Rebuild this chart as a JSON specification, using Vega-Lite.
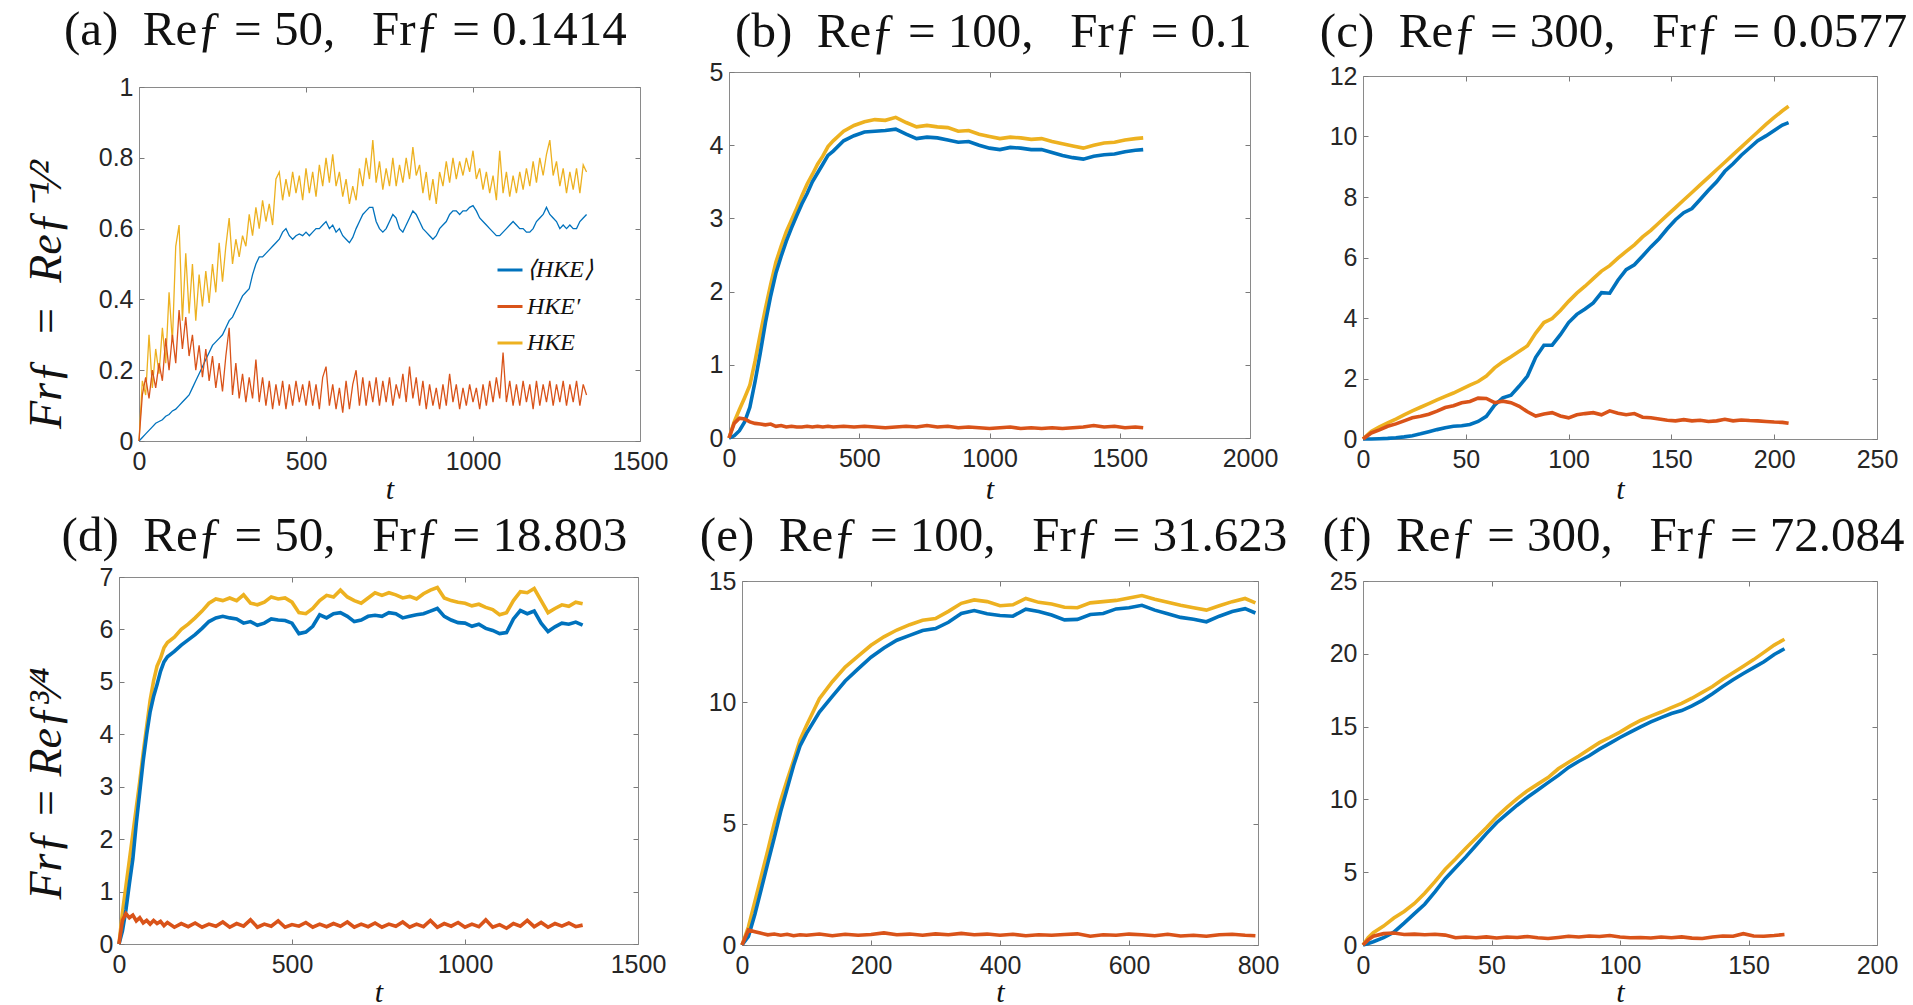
{
  "$schema": "https://vega.github.io/schema/vega-lite/v6.json",
  "background": "white",
  "padding": {"left": 23, "top": 6, "right": 0, "bottom": 0},
  "datasets": {
    "a": [
      {"t":0,"mean":0,"fluc":0,"total":0},{"t":10,"mean":0.01,"fluc":0.13,"total":0.17},{"t":20,"mean":0.02,"fluc":0.18,"total":0.13},{"t":30,"mean":0.03,"fluc":0.12,"total":0.3},{"t":40,"mean":0.04,"fluc":0.2,"total":0.15},{"t":50,"mean":0.05,"fluc":0.15,"total":0.26},{"t":60,"mean":0.055,"fluc":0.22,"total":0.19},{"t":70,"mean":0.06,"fluc":0.17,"total":0.32},{"t":80,"mean":0.07,"fluc":0.29,"total":0.22},{"t":90,"mean":0.075,"fluc":0.2,"total":0.42},
      {"t":100,"mean":0.085,"fluc":0.3,"total":0.28},{"t":110,"mean":0.09,"fluc":0.22,"total":0.55},{"t":120,"mean":0.1,"fluc":0.37,"total":0.61},{"t":130,"mean":0.11,"fluc":0.26,"total":0.34},{"t":140,"mean":0.12,"fluc":0.35,"total":0.53},{"t":150,"mean":0.13,"fluc":0.24,"total":0.36},{"t":160,"mean":0.15,"fluc":0.3,"total":0.5},{"t":170,"mean":0.17,"fluc":0.2,"total":0.34},{"t":180,"mean":0.19,"fluc":0.27,"total":0.47},{"t":190,"mean":0.21,"fluc":0.18,"total":0.38},
      {"t":200,"mean":0.23,"fluc":0.26,"total":0.48},{"t":210,"mean":0.25,"fluc":0.17,"total":0.39},{"t":220,"mean":0.27,"fluc":0.24,"total":0.5},{"t":230,"mean":0.28,"fluc":0.15,"total":0.42},{"t":240,"mean":0.29,"fluc":0.22,"total":0.56},{"t":250,"mean":0.3,"fluc":0.14,"total":0.45},{"t":260,"mean":0.32,"fluc":0.24,"total":0.55},{"t":270,"mean":0.34,"fluc":0.32,"total":0.63},{"t":280,"mean":0.35,"fluc":0.13,"total":0.5},{"t":290,"mean":0.37,"fluc":0.22,"total":0.57},
      {"t":300,"mean":0.39,"fluc":0.12,"total":0.52},{"t":310,"mean":0.41,"fluc":0.19,"total":0.58},{"t":320,"mean":0.42,"fluc":0.11,"total":0.55},{"t":330,"mean":0.43,"fluc":0.18,"total":0.64},{"t":340,"mean":0.47,"fluc":0.12,"total":0.58},{"t":350,"mean":0.5,"fluc":0.23,"total":0.66},{"t":360,"mean":0.52,"fluc":0.11,"total":0.6},{"t":370,"mean":0.52,"fluc":0.18,"total":0.68},{"t":380,"mean":0.53,"fluc":0.1,"total":0.62},{"t":390,"mean":0.54,"fluc":0.17,"total":0.67},
      {"t":400,"mean":0.55,"fluc":0.09,"total":0.61},{"t":410,"mean":0.56,"fluc":0.16,"total":0.74},{"t":420,"mean":0.57,"fluc":0.1,"total":0.76},{"t":430,"mean":0.59,"fluc":0.17,"total":0.68},{"t":440,"mean":0.6,"fluc":0.09,"total":0.74},{"t":450,"mean":0.58,"fluc":0.16,"total":0.69},{"t":460,"mean":0.57,"fluc":0.1,"total":0.76},{"t":470,"mean":0.58,"fluc":0.17,"total":0.7},{"t":480,"mean":0.585,"fluc":0.11,"total":0.75},{"t":490,"mean":0.58,"fluc":0.16,"total":0.68},
      {"t":500,"mean":0.59,"fluc":0.1,"total":0.77},{"t":510,"mean":0.58,"fluc":0.17,"total":0.7},{"t":520,"mean":0.59,"fluc":0.1,"total":0.76},{"t":530,"mean":0.6,"fluc":0.16,"total":0.69},{"t":540,"mean":0.6,"fluc":0.09,"total":0.78},{"t":550,"mean":0.61,"fluc":0.18,"total":0.72},{"t":560,"mean":0.62,"fluc":0.21,"total":0.8},{"t":570,"mean":0.6,"fluc":0.1,"total":0.73},{"t":580,"mean":0.61,"fluc":0.16,"total":0.81},{"t":590,"mean":0.59,"fluc":0.09,"total":0.72},
      {"t":600,"mean":0.6,"fluc":0.15,"total":0.76},{"t":610,"mean":0.58,"fluc":0.08,"total":0.69},{"t":620,"mean":0.57,"fluc":0.17,"total":0.74},{"t":630,"mean":0.56,"fluc":0.09,"total":0.67},{"t":640,"mean":0.575,"fluc":0.16,"total":0.72},{"t":650,"mean":0.6,"fluc":0.2,"total":0.68},{"t":660,"mean":0.62,"fluc":0.1,"total":0.77},{"t":670,"mean":0.64,"fluc":0.18,"total":0.72},{"t":680,"mean":0.65,"fluc":0.1,"total":0.8},{"t":690,"mean":0.66,"fluc":0.17,"total":0.74},
      {"t":700,"mean":0.66,"fluc":0.11,"total":0.85},{"t":710,"mean":0.62,"fluc":0.18,"total":0.73},{"t":720,"mean":0.6,"fluc":0.1,"total":0.79},{"t":730,"mean":0.59,"fluc":0.17,"total":0.71},{"t":740,"mean":0.6,"fluc":0.11,"total":0.77},{"t":750,"mean":0.62,"fluc":0.18,"total":0.72},{"t":760,"mean":0.64,"fluc":0.1,"total":0.8},{"t":770,"mean":0.63,"fluc":0.16,"total":0.72},{"t":780,"mean":0.6,"fluc":0.12,"total":0.78},{"t":790,"mean":0.59,"fluc":0.19,"total":0.73},
      {"t":800,"mean":0.61,"fluc":0.11,"total":0.8},{"t":810,"mean":0.63,"fluc":0.21,"total":0.74},{"t":820,"mean":0.65,"fluc":0.12,"total":0.83},{"t":830,"mean":0.64,"fluc":0.18,"total":0.75},{"t":840,"mean":0.62,"fluc":0.1,"total":0.78},{"t":850,"mean":0.6,"fluc":0.17,"total":0.7},{"t":860,"mean":0.59,"fluc":0.09,"total":0.76},{"t":870,"mean":0.58,"fluc":0.16,"total":0.68},{"t":880,"mean":0.57,"fluc":0.1,"total":0.74},{"t":890,"mean":0.58,"fluc":0.15,"total":0.67},
      {"t":900,"mean":0.6,"fluc":0.09,"total":0.76},{"t":910,"mean":0.61,"fluc":0.16,"total":0.72},{"t":920,"mean":0.62,"fluc":0.1,"total":0.79},{"t":930,"mean":0.64,"fluc":0.19,"total":0.73},{"t":940,"mean":0.65,"fluc":0.11,"total":0.8},{"t":950,"mean":0.65,"fluc":0.16,"total":0.74},{"t":960,"mean":0.64,"fluc":0.09,"total":0.79},{"t":970,"mean":0.65,"fluc":0.15,"total":0.75},{"t":980,"mean":0.65,"fluc":0.1,"total":0.8},{"t":990,"mean":0.66,"fluc":0.16,"total":0.76},
      {"t":1000,"mean":0.665,"fluc":0.11,"total":0.82},{"t":1010,"mean":0.65,"fluc":0.15,"total":0.74},{"t":1020,"mean":0.63,"fluc":0.09,"total":0.77},{"t":1030,"mean":0.62,"fluc":0.16,"total":0.71},{"t":1040,"mean":0.61,"fluc":0.1,"total":0.76},{"t":1050,"mean":0.6,"fluc":0.17,"total":0.7},{"t":1060,"mean":0.59,"fluc":0.11,"total":0.75},{"t":1070,"mean":0.58,"fluc":0.18,"total":0.68},{"t":1080,"mean":0.58,"fluc":0.12,"total":0.82},{"t":1090,"mean":0.59,"fluc":0.25,"total":0.7},
      {"t":1100,"mean":0.6,"fluc":0.11,"total":0.76},{"t":1110,"mean":0.61,"fluc":0.17,"total":0.69},{"t":1120,"mean":0.62,"fluc":0.1,"total":0.75},{"t":1130,"mean":0.61,"fluc":0.16,"total":0.7},{"t":1140,"mean":0.6,"fluc":0.1,"total":0.76},{"t":1150,"mean":0.6,"fluc":0.17,"total":0.71},{"t":1160,"mean":0.59,"fluc":0.11,"total":0.77},{"t":1170,"mean":0.59,"fluc":0.16,"total":0.72},{"t":1180,"mean":0.6,"fluc":0.09,"total":0.79},{"t":1190,"mean":0.62,"fluc":0.17,"total":0.73},
      {"t":1200,"mean":0.63,"fluc":0.1,"total":0.8},{"t":1210,"mean":0.64,"fluc":0.16,"total":0.75},{"t":1220,"mean":0.66,"fluc":0.11,"total":0.81},{"t":1230,"mean":0.64,"fluc":0.17,"total":0.85},{"t":1240,"mean":0.63,"fluc":0.1,"total":0.75},{"t":1250,"mean":0.62,"fluc":0.16,"total":0.79},{"t":1260,"mean":0.6,"fluc":0.11,"total":0.72},{"t":1270,"mean":0.61,"fluc":0.17,"total":0.77},{"t":1280,"mean":0.6,"fluc":0.1,"total":0.7},{"t":1290,"mean":0.61,"fluc":0.16,"total":0.76},
      {"t":1300,"mean":0.6,"fluc":0.11,"total":0.71},{"t":1310,"mean":0.6,"fluc":0.17,"total":0.77},{"t":1320,"mean":0.62,"fluc":0.1,"total":0.7},{"t":1330,"mean":0.63,"fluc":0.16,"total":0.78},{"t":1340,"mean":0.64,"fluc":0.13,"total":0.76}
    ],
    "b": [
      {"t":0,"mean":0,"fluc":0,"total":0},{"t":20,"mean":0.03,"fluc":0.2,"total":0.22},{"t":40,"mean":0.1,"fluc":0.27,"total":0.39},{"t":60,"mean":0.22,"fluc":0.26,"total":0.55},{"t":80,"mean":0.42,"fluc":0.22,"total":0.72},{"t":100,"mean":0.77,"fluc":0.2,"total":1.05},{"t":120,"mean":1.16,"fluc":0.19,"total":1.42},{"t":140,"mean":1.58,"fluc":0.18,"total":1.77},{"t":160,"mean":1.94,"fluc":0.19,"total":2.1},{"t":180,"mean":2.25,"fluc":0.16,"total":2.4},
      {"t":200,"mean":2.48,"fluc":0.17,"total":2.62},{"t":220,"mean":2.69,"fluc":0.15,"total":2.82},{"t":240,"mean":2.87,"fluc":0.16,"total":2.98},{"t":260,"mean":3.04,"fluc":0.15,"total":3.14},{"t":280,"mean":3.2,"fluc":0.15,"total":3.31},{"t":300,"mean":3.34,"fluc":0.16,"total":3.47},{"t":320,"mean":3.5,"fluc":0.15,"total":3.6},{"t":340,"mean":3.62,"fluc":0.16,"total":3.74},{"t":360,"mean":3.74,"fluc":0.15,"total":3.85},{"t":380,"mean":3.86,"fluc":0.16,"total":3.98},
      {"t":400,"mean":3.92,"fluc":0.15,"total":4.06},{"t":440,"mean":4.06,"fluc":0.16,"total":4.19},{"t":480,"mean":4.13,"fluc":0.15,"total":4.27},{"t":520,"mean":4.18,"fluc":0.16,"total":4.32},{"t":560,"mean":4.19,"fluc":0.15,"total":4.35},{"t":600,"mean":4.2,"fluc":0.14,"total":4.34},{"t":640,"mean":4.22,"fluc":0.15,"total":4.38},{"t":680,"mean":4.15,"fluc":0.16,"total":4.31},{"t":720,"mean":4.09,"fluc":0.15,"total":4.25},{"t":760,"mean":4.11,"fluc":0.17,"total":4.27},
      {"t":800,"mean":4.1,"fluc":0.15,"total":4.25},{"t":840,"mean":4.07,"fluc":0.16,"total":4.24},{"t":880,"mean":4.04,"fluc":0.14,"total":4.19},{"t":920,"mean":4.05,"fluc":0.15,"total":4.2},{"t":960,"mean":4.0,"fluc":0.14,"total":4.15},{"t":1000,"mean":3.96,"fluc":0.13,"total":4.12},{"t":1040,"mean":3.94,"fluc":0.14,"total":4.09},{"t":1080,"mean":3.97,"fluc":0.15,"total":4.11},{"t":1120,"mean":3.96,"fluc":0.13,"total":4.1},{"t":1160,"mean":3.94,"fluc":0.14,"total":4.08},
      {"t":1200,"mean":3.94,"fluc":0.13,"total":4.09},{"t":1240,"mean":3.9,"fluc":0.14,"total":4.05},{"t":1280,"mean":3.86,"fluc":0.13,"total":4.02},{"t":1320,"mean":3.83,"fluc":0.14,"total":3.99},{"t":1360,"mean":3.81,"fluc":0.15,"total":3.96},{"t":1400,"mean":3.85,"fluc":0.17,"total":4.0},{"t":1440,"mean":3.87,"fluc":0.15,"total":4.03},{"t":1480,"mean":3.88,"fluc":0.16,"total":4.04},{"t":1520,"mean":3.91,"fluc":0.14,"total":4.07},{"t":1560,"mean":3.93,"fluc":0.15,"total":4.09},
      {"t":1590,"mean":3.94,"fluc":0.14,"total":4.1}
    ],
    "c": [
      {"t":0,"mean":0,"fluc":0,"total":0},{"t":4,"mean":0,"fluc":0.2,"total":0.25},{"t":8,"mean":0.01,"fluc":0.3,"total":0.4},{"t":12,"mean":0.02,"fluc":0.42,"total":0.53},{"t":16,"mean":0.04,"fluc":0.5,"total":0.66},{"t":20,"mean":0.07,"fluc":0.6,"total":0.8},{"t":24,"mean":0.11,"fluc":0.7,"total":0.93},{"t":28,"mean":0.17,"fluc":0.75,"total":1.05},{"t":32,"mean":0.24,"fluc":0.82,"total":1.17},{"t":36,"mean":0.31,"fluc":0.92,"total":1.29},
      {"t":40,"mean":0.37,"fluc":1.04,"total":1.41},{"t":44,"mean":0.42,"fluc":1.1,"total":1.52},{"t":48,"mean":0.44,"fluc":1.2,"total":1.65},{"t":52,"mean":0.48,"fluc":1.24,"total":1.78},{"t":56,"mean":0.58,"fluc":1.35,"total":1.9},{"t":60,"mean":0.75,"fluc":1.34,"total":2.08},{"t":64,"mean":1.12,"fluc":1.2,"total":2.35},{"t":68,"mean":1.36,"fluc":1.25,"total":2.55},{"t":72,"mean":1.45,"fluc":1.2,"total":2.72},{"t":76,"mean":1.75,"fluc":1.08,"total":2.9},
      {"t":80,"mean":2.08,"fluc":0.9,"total":3.08},{"t":84,"mean":2.7,"fluc":0.76,"total":3.5},{"t":88,"mean":3.1,"fluc":0.83,"total":3.85},{"t":92,"mean":3.1,"fluc":0.87,"total":3.98},{"t":96,"mean":3.45,"fluc":0.76,"total":4.25},{"t":100,"mean":3.85,"fluc":0.7,"total":4.55},{"t":104,"mean":4.12,"fluc":0.8,"total":4.82},{"t":108,"mean":4.3,"fluc":0.84,"total":5.05},{"t":112,"mean":4.5,"fluc":0.87,"total":5.3},{"t":116,"mean":4.84,"fluc":0.8,"total":5.55},
      {"t":120,"mean":4.82,"fluc":0.93,"total":5.73},{"t":124,"mean":5.25,"fluc":0.85,"total":5.98},{"t":128,"mean":5.6,"fluc":0.8,"total":6.2},{"t":132,"mean":5.76,"fluc":0.84,"total":6.42},{"t":136,"mean":6.05,"fluc":0.72,"total":6.68},{"t":140,"mean":6.35,"fluc":0.7,"total":6.9},{"t":144,"mean":6.62,"fluc":0.66,"total":7.15},{"t":148,"mean":6.95,"fluc":0.62,"total":7.4},{"t":152,"mean":7.25,"fluc":0.6,"total":7.65},{"t":156,"mean":7.48,"fluc":0.64,"total":7.9},
      {"t":160,"mean":7.62,"fluc":0.6,"total":8.15},{"t":164,"mean":7.92,"fluc":0.62,"total":8.4},{"t":168,"mean":8.22,"fluc":0.58,"total":8.65},{"t":172,"mean":8.5,"fluc":0.6,"total":8.9},{"t":176,"mean":8.85,"fluc":0.65,"total":9.15},{"t":180,"mean":9.1,"fluc":0.6,"total":9.4},{"t":184,"mean":9.38,"fluc":0.63,"total":9.65},{"t":188,"mean":9.62,"fluc":0.61,"total":9.9},{"t":192,"mean":9.86,"fluc":0.6,"total":10.15},{"t":196,"mean":10.02,"fluc":0.58,"total":10.4},
      {"t":200,"mean":10.2,"fluc":0.56,"total":10.63},{"t":204,"mean":10.38,"fluc":0.55,"total":10.85},{"t":207,"mean":10.46,"fluc":0.52,"total":11.0}
    ],
    "d": [
      {"t":0,"mean":0,"fluc":0,"total":0},{"t":10,"mean":0.25,"fluc":0.45,"total":0.6},{"t":20,"mean":0.65,"fluc":0.58,"total":1.1},{"t":30,"mean":1.15,"fluc":0.5,"total":1.6},{"t":40,"mean":1.62,"fluc":0.55,"total":2.1},{"t":50,"mean":2.3,"fluc":0.44,"total":2.6},{"t":60,"mean":2.9,"fluc":0.5,"total":3.1},{"t":70,"mean":3.5,"fluc":0.4,"total":3.65},{"t":80,"mean":4.0,"fluc":0.45,"total":4.15},{"t":90,"mean":4.43,"fluc":0.38,"total":4.65},
      {"t":100,"mean":4.72,"fluc":0.45,"total":5.02},{"t":110,"mean":4.95,"fluc":0.39,"total":5.3},{"t":120,"mean":5.2,"fluc":0.43,"total":5.45},{"t":130,"mean":5.38,"fluc":0.35,"total":5.65},{"t":140,"mean":5.48,"fluc":0.41,"total":5.75},{"t":160,"mean":5.58,"fluc":0.32,"total":5.85},{"t":180,"mean":5.7,"fluc":0.39,"total":6.0},{"t":200,"mean":5.8,"fluc":0.33,"total":6.1},{"t":220,"mean":5.9,"fluc":0.4,"total":6.22},{"t":240,"mean":6.02,"fluc":0.32,"total":6.35},
      {"t":260,"mean":6.15,"fluc":0.38,"total":6.5},{"t":280,"mean":6.22,"fluc":0.34,"total":6.58},{"t":300,"mean":6.25,"fluc":0.42,"total":6.55},{"t":320,"mean":6.22,"fluc":0.32,"total":6.6},{"t":340,"mean":6.2,"fluc":0.39,"total":6.55},{"t":360,"mean":6.12,"fluc":0.34,"total":6.66},{"t":380,"mean":6.15,"fluc":0.46,"total":6.5},{"t":400,"mean":6.08,"fluc":0.32,"total":6.47},{"t":420,"mean":6.12,"fluc":0.38,"total":6.52},{"t":440,"mean":6.2,"fluc":0.34,"total":6.62},
      {"t":460,"mean":6.18,"fluc":0.44,"total":6.58},{"t":480,"mean":6.17,"fluc":0.32,"total":6.6},{"t":500,"mean":6.12,"fluc":0.37,"total":6.52},{"t":520,"mean":5.92,"fluc":0.34,"total":6.32},{"t":540,"mean":5.95,"fluc":0.41,"total":6.3},{"t":560,"mean":6.06,"fluc":0.32,"total":6.4},{"t":580,"mean":6.28,"fluc":0.38,"total":6.55},{"t":600,"mean":6.22,"fluc":0.33,"total":6.65},{"t":620,"mean":6.3,"fluc":0.39,"total":6.62},{"t":640,"mean":6.32,"fluc":0.34,"total":6.75},
      {"t":660,"mean":6.25,"fluc":0.42,"total":6.62},{"t":680,"mean":6.15,"fluc":0.32,"total":6.55},{"t":700,"mean":6.18,"fluc":0.38,"total":6.5},{"t":720,"mean":6.25,"fluc":0.33,"total":6.6},{"t":740,"mean":6.27,"fluc":0.4,"total":6.7},{"t":760,"mean":6.25,"fluc":0.32,"total":6.65},{"t":780,"mean":6.32,"fluc":0.38,"total":6.7},{"t":800,"mean":6.3,"fluc":0.34,"total":6.66},{"t":820,"mean":6.22,"fluc":0.42,"total":6.6},{"t":840,"mean":6.25,"fluc":0.32,"total":6.63},
      {"t":860,"mean":6.28,"fluc":0.38,"total":6.58},{"t":880,"mean":6.3,"fluc":0.33,"total":6.68},{"t":900,"mean":6.35,"fluc":0.45,"total":6.75},{"t":920,"mean":6.4,"fluc":0.32,"total":6.8},{"t":940,"mean":6.25,"fluc":0.39,"total":6.6},{"t":960,"mean":6.18,"fluc":0.34,"total":6.55},{"t":980,"mean":6.13,"fluc":0.41,"total":6.52},{"t":1000,"mean":6.12,"fluc":0.32,"total":6.5},{"t":1020,"mean":6.06,"fluc":0.38,"total":6.45},{"t":1040,"mean":6.1,"fluc":0.33,"total":6.48},
      {"t":1060,"mean":6.02,"fluc":0.46,"total":6.42},{"t":1080,"mean":5.98,"fluc":0.32,"total":6.38},{"t":1100,"mean":5.92,"fluc":0.37,"total":6.28},{"t":1120,"mean":5.94,"fluc":0.3,"total":6.32},{"t":1140,"mean":6.2,"fluc":0.39,"total":6.55},{"t":1160,"mean":6.36,"fluc":0.34,"total":6.72},{"t":1180,"mean":6.3,"fluc":0.45,"total":6.7},{"t":1200,"mean":6.35,"fluc":0.33,"total":6.78},{"t":1220,"mean":6.12,"fluc":0.41,"total":6.55},{"t":1240,"mean":5.96,"fluc":0.32,"total":6.32},
      {"t":1260,"mean":6.05,"fluc":0.39,"total":6.4},{"t":1280,"mean":6.12,"fluc":0.34,"total":6.47},{"t":1300,"mean":6.1,"fluc":0.4,"total":6.44},{"t":1320,"mean":6.14,"fluc":0.33,"total":6.52},{"t":1340,"mean":6.08,"fluc":0.36,"total":6.49}
    ],
    "e": [
      {"t":0,"mean":0,"fluc":0,"total":0},{"t":10,"mean":0.35,"fluc":0.62,"total":0.75},{"t":20,"mean":1.27,"fluc":0.55,"total":1.8},{"t":30,"mean":2.32,"fluc":0.48,"total":2.85},{"t":40,"mean":3.38,"fluc":0.42,"total":3.9},{"t":50,"mean":4.42,"fluc":0.45,"total":5.0},{"t":60,"mean":5.5,"fluc":0.4,"total":5.95},{"t":70,"mean":6.45,"fluc":0.44,"total":6.8},{"t":80,"mean":7.4,"fluc":0.38,"total":7.6},{"t":90,"mean":8.2,"fluc":0.42,"total":8.45},
      {"t":100,"mean":8.72,"fluc":0.4,"total":9.05},{"t":120,"mean":9.6,"fluc":0.45,"total":10.15},{"t":140,"mean":10.25,"fluc":0.38,"total":10.85},{"t":160,"mean":10.88,"fluc":0.44,"total":11.45},{"t":180,"mean":11.38,"fluc":0.4,"total":11.9},{"t":200,"mean":11.86,"fluc":0.43,"total":12.35},{"t":220,"mean":12.24,"fluc":0.5,"total":12.7},{"t":240,"mean":12.56,"fluc":0.42,"total":12.98},{"t":260,"mean":12.76,"fluc":0.45,"total":13.2},{"t":280,"mean":12.96,"fluc":0.4,"total":13.38},
      {"t":300,"mean":13.04,"fluc":0.46,"total":13.45},{"t":320,"mean":13.3,"fluc":0.42,"total":13.75},{"t":340,"mean":13.66,"fluc":0.48,"total":14.08},{"t":360,"mean":13.78,"fluc":0.42,"total":14.22},{"t":380,"mean":13.65,"fluc":0.45,"total":14.15},{"t":400,"mean":13.58,"fluc":0.4,"total":13.98},{"t":420,"mean":13.55,"fluc":0.44,"total":14.02},{"t":440,"mean":13.84,"fluc":0.38,"total":14.28},{"t":460,"mean":13.74,"fluc":0.42,"total":14.12},{"t":480,"mean":13.6,"fluc":0.4,"total":14.05},
      {"t":500,"mean":13.4,"fluc":0.43,"total":13.92},{"t":520,"mean":13.42,"fluc":0.46,"total":13.9},{"t":540,"mean":13.62,"fluc":0.36,"total":14.1},{"t":560,"mean":13.66,"fluc":0.42,"total":14.15},{"t":580,"mean":13.85,"fluc":0.4,"total":14.2},{"t":600,"mean":13.9,"fluc":0.45,"total":14.3},{"t":620,"mean":14.0,"fluc":0.42,"total":14.4},{"t":640,"mean":13.8,"fluc":0.38,"total":14.25},{"t":660,"mean":13.65,"fluc":0.44,"total":14.12},{"t":680,"mean":13.5,"fluc":0.37,"total":14.0},
      {"t":700,"mean":13.42,"fluc":0.4,"total":13.9},{"t":720,"mean":13.32,"fluc":0.36,"total":13.8},{"t":740,"mean":13.55,"fluc":0.42,"total":13.98},{"t":760,"mean":13.74,"fluc":0.44,"total":14.15},{"t":780,"mean":13.86,"fluc":0.4,"total":14.28},{"t":796,"mean":13.68,"fluc":0.38,"total":14.1}
    ],
    "f": [
      {"t":0,"mean":0,"fluc":0,"total":0},{"t":2,"mean":0.1,"fluc":0.35,"total":0.5},{"t":4,"mean":0.22,"fluc":0.6,"total":0.85},{"t":8,"mean":0.5,"fluc":0.78,"total":1.3},{"t":12,"mean":0.88,"fluc":0.82,"total":1.85},{"t":16,"mean":1.5,"fluc":0.72,"total":2.3},{"t":20,"mean":2.15,"fluc":0.75,"total":2.85},{"t":24,"mean":2.8,"fluc":0.7,"total":3.55},{"t":28,"mean":3.65,"fluc":0.74,"total":4.35},{"t":32,"mean":4.55,"fluc":0.68,"total":5.2},
      {"t":36,"mean":5.3,"fluc":0.5,"total":5.9},{"t":40,"mean":6.05,"fluc":0.55,"total":6.65},{"t":44,"mean":6.85,"fluc":0.5,"total":7.35},{"t":48,"mean":7.65,"fluc":0.56,"total":8.05},{"t":52,"mean":8.4,"fluc":0.48,"total":8.8},{"t":56,"mean":9.0,"fluc":0.55,"total":9.45},{"t":60,"mean":9.6,"fluc":0.52,"total":10.05},{"t":64,"mean":10.15,"fluc":0.58,"total":10.6},{"t":68,"mean":10.65,"fluc":0.5,"total":11.05},{"t":72,"mean":11.15,"fluc":0.45,"total":11.5},
      {"t":76,"mean":11.65,"fluc":0.52,"total":12.1},{"t":80,"mean":12.2,"fluc":0.6,"total":12.55},{"t":84,"mean":12.62,"fluc":0.55,"total":12.98},{"t":88,"mean":13.0,"fluc":0.62,"total":13.45},{"t":92,"mean":13.45,"fluc":0.58,"total":13.9},{"t":96,"mean":13.85,"fluc":0.65,"total":14.25},{"t":100,"mean":14.25,"fluc":0.55,"total":14.62},{"t":104,"mean":14.62,"fluc":0.5,"total":15.05},{"t":108,"mean":14.98,"fluc":0.52,"total":15.42},{"t":112,"mean":15.32,"fluc":0.48,"total":15.72},
      {"t":116,"mean":15.62,"fluc":0.55,"total":16.0},{"t":120,"mean":15.9,"fluc":0.5,"total":16.3},{"t":124,"mean":16.1,"fluc":0.56,"total":16.6},{"t":128,"mean":16.42,"fluc":0.47,"total":16.95},{"t":132,"mean":16.8,"fluc":0.45,"total":17.35},{"t":136,"mean":17.25,"fluc":0.55,"total":17.75},{"t":140,"mean":17.75,"fluc":0.62,"total":18.25},{"t":144,"mean":18.22,"fluc":0.6,"total":18.7},{"t":148,"mean":18.65,"fluc":0.78,"total":19.15},{"t":152,"mean":19.05,"fluc":0.62,"total":19.6},
      {"t":156,"mean":19.45,"fluc":0.6,"total":20.1},{"t":160,"mean":19.95,"fluc":0.65,"total":20.6},{"t":164,"mean":20.35,"fluc":0.72,"total":21.0}
    ]
  },
  "concat": [
    {
      "width": 524, "height": 369,
      "title": {"text": "(a) \u00a0Reƒ = 50, \u00a0 Frƒ = 0.1414", "offset": 17},
      "data": {"name": "a"},
      "transform": [{"fold": ["total", "mean", "fluc"], "as": ["series", "value"]}],
      "layer": [
        {
          "mark": {"type": "line", "strokeWidth": 1.3},
          "encoding": {
            "x": {"field": "t", "type": "quantitative", "scale": {"domain": [0, 1500], "nice": false, "range": [23, 524]}, "axis": {"values": [0, 500, 1000, 1500], "format": "d", "title": "t", "titleY": 57}},
            "y": {"field": "value", "type": "quantitative", "scale": {"domain": [0, 1], "nice": false, "range": [369, 15]}, "axis": {"values": [0, 0.2, 0.4, 0.6, 0.8, 1], "format": ".1~f", "offset": -23, "title": "Frƒ \u00a0= \u00a0Reƒ⁻¹⁄²", "titleFontSize": 46, "titleX": -69, "titleY": 222}},
            "color": {
              "field": "series", "type": "nominal",
              "scale": {"domain": ["mean", "fluc", "total"], "range": ["#0072BD", "#D95319", "#EDB120"]},
              "legend": {
                "orient": "none", "legendX": 380, "legendY": 184, "title": null, "direction": "vertical", "padding": 0,
                "symbolType": "stroke", "symbolSize": 625, "symbolStrokeWidth": 3,
                "labelFont": "Liberation Serif", "labelFontStyle": "italic", "labelFontSize": 24, "labelColor": "#111111", "labelOffset": 3, "rowPadding": 10.5,
                "labelExpr": "datum.label == 'mean' ? '⟨HKE⟩' : datum.label == 'fluc' ? 'HKE′' : 'HKE'"
              }
            }
          }
        },
        {
          "mark": {"type": "line", "opacity": 0},
          "encoding": {
            "x": {"field": "t", "type": "quantitative", "axis": {"orient": "top", "offset": -15, "values": [0, 500, 1000, 1500], "labels": false, "title": null}},
            "y": {"field": "value", "type": "quantitative", "axis": {"orient": "right", "values": [0, 0.2, 0.4, 0.6, 0.8, 1], "labels": false, "title": null}},
            "detail": {"field": "series"}
          }
        }
      ],
      "resolve": {"axis": {"x": "independent", "y": "independent"}}
    },
    {
      "width": 521, "height": 366,
      "title": {"text": "(b) \u00a0Reƒ = 100, \u00a0 Frƒ = 0.1", "offset": 3.4},
      "data": {"name": "b"},
      "transform": [{"fold": ["total", "mean", "fluc"], "as": ["series", "value"]}],
      "layer": [
        {
          "mark": {"type": "line", "strokeWidth": 3.6},
          "encoding": {
            "x": {"field": "t", "type": "quantitative", "scale": {"domain": [0, 2000], "nice": false}, "axis": {"values": [0, 500, 1000, 1500, 2000], "format": "d", "title": "t", "titleY": 60}},
            "y": {"field": "value", "type": "quantitative", "scale": {"domain": [0, 5], "nice": false}, "axis": {"values": [0, 1, 2, 3, 4, 5], "format": "d", "title": null}},
            "color": {"field": "series", "type": "nominal", "scale": {"domain": ["mean", "fluc", "total"], "range": ["#0072BD", "#D95319", "#EDB120"]}, "legend": null}
          }
        },
        {
          "mark": {"type": "line", "opacity": 0},
          "encoding": {
            "x": {"field": "t", "type": "quantitative", "axis": {"orient": "top", "values": [0, 500, 1000, 1500, 2000], "labels": false, "title": null}},
            "y": {"field": "value", "type": "quantitative", "axis": {"orient": "right", "values": [0, 1, 2, 3, 4, 5], "labels": false, "title": null}},
            "detail": {"field": "series"}
          }
        }
      ],
      "resolve": {"axis": {"x": "independent", "y": "independent"}}
    },
    {
      "width": 514, "height": 367,
      "title": {"text": "(c) \u00a0Reƒ = 300, \u00a0 Frƒ = 0.0577", "offset": 7.4},
      "data": {"name": "c"},
      "transform": [{"fold": ["total", "mean", "fluc"], "as": ["series", "value"]}],
      "layer": [
        {
          "mark": {"type": "line", "strokeWidth": 3.6},
          "encoding": {
            "x": {"field": "t", "type": "quantitative", "scale": {"domain": [0, 250], "nice": false}, "axis": {"values": [0, 50, 100, 150, 200, 250], "format": "d", "title": "t", "titleY": 59}},
            "y": {"field": "value", "type": "quantitative", "scale": {"domain": [0, 12], "nice": false, "range": [367, 4]}, "axis": {"values": [0, 2, 4, 6, 8, 10, 12], "format": "d", "title": null}},
            "color": {"field": "series", "type": "nominal", "scale": {"domain": ["mean", "fluc", "total"], "range": ["#0072BD", "#D95319", "#EDB120"]}, "legend": null}
          }
        },
        {
          "mark": {"type": "line", "opacity": 0},
          "encoding": {
            "x": {"field": "t", "type": "quantitative", "axis": {"orient": "top", "offset": -4, "values": [0, 50, 100, 150, 200, 250], "labels": false, "title": null}},
            "y": {"field": "value", "type": "quantitative", "axis": {"orient": "right", "values": [0, 2, 4, 6, 8, 10, 12], "labels": false, "title": null}},
            "detail": {"field": "series"}
          }
        }
      ],
      "resolve": {"axis": {"x": "independent", "y": "independent"}}
    },
    {
      "width": 522, "height": 367,
      "title": {"text": "(d) \u00a0Reƒ = 50, \u00a0 Frƒ = 18.803", "offset": 4.4},
      "data": {"name": "d"},
      "transform": [{"fold": ["total", "mean", "fluc"], "as": ["series", "value"]}],
      "layer": [
        {
          "mark": {"type": "line", "strokeWidth": 3.6},
          "encoding": {
            "x": {"field": "t", "type": "quantitative", "scale": {"domain": [0, 1500], "nice": false, "range": [3, 522]}, "axis": {"values": [0, 500, 1000, 1500], "format": "d", "title": "t", "titleY": 57}},
            "y": {"field": "value", "type": "quantitative", "scale": {"domain": [0, 7], "nice": false}, "axis": {"values": [0, 1, 2, 3, 4, 5, 6, 7], "format": "d", "offset": -3, "title": "Frƒ = Reƒ³⁄⁴", "titleFontSize": 46, "titleX": -49, "titleY": 206}},
            "color": {"field": "series", "type": "nominal", "scale": {"domain": ["mean", "fluc", "total"], "range": ["#0072BD", "#D95319", "#EDB120"]}, "legend": null}
          }
        },
        {
          "mark": {"type": "line", "opacity": 0},
          "encoding": {
            "x": {"field": "t", "type": "quantitative", "axis": {"orient": "top", "values": [0, 500, 1000, 1500], "labels": false, "title": null}},
            "y": {"field": "value", "type": "quantitative", "axis": {"orient": "right", "values": [0, 1, 2, 3, 4, 5, 6, 7], "labels": false, "title": null}},
            "detail": {"field": "series"}
          }
        }
      ],
      "resolve": {"axis": {"x": "independent", "y": "independent"}}
    },
    {
      "width": 529, "height": 368,
      "title": {"text": "(e) \u00a0Reƒ = 100, \u00a0 Frƒ = 31.623", "offset": 8.4},
      "data": {"name": "e"},
      "transform": [{"fold": ["total", "mean", "fluc"], "as": ["series", "value"]}],
      "layer": [
        {
          "mark": {"type": "line", "strokeWidth": 3.6},
          "encoding": {
            "x": {"field": "t", "type": "quantitative", "scale": {"domain": [0, 800], "nice": false, "range": [13, 529]}, "axis": {"values": [0, 200, 400, 600, 800], "format": "d", "title": "t", "titleY": 56}},
            "y": {"field": "value", "type": "quantitative", "scale": {"domain": [0, 15], "nice": false, "range": [368, 4]}, "axis": {"values": [0, 5, 10, 15], "format": "d", "offset": -13, "title": null}},
            "color": {"field": "series", "type": "nominal", "scale": {"domain": ["mean", "fluc", "total"], "range": ["#0072BD", "#D95319", "#EDB120"]}, "legend": null}
          }
        },
        {
          "mark": {"type": "line", "opacity": 0},
          "encoding": {
            "x": {"field": "t", "type": "quantitative", "axis": {"orient": "top", "offset": -4, "values": [0, 200, 400, 600, 800], "labels": false, "title": null}},
            "y": {"field": "value", "type": "quantitative", "axis": {"orient": "right", "values": [0, 5, 10, 15], "labels": false, "title": null}},
            "detail": {"field": "series"}
          }
        }
      ],
      "resolve": {"axis": {"x": "independent", "y": "independent"}}
    },
    {
      "width": 514, "height": 368,
      "title": {"text": "(f) \u00a0Reƒ = 300, \u00a0 Frƒ = 72.084", "offset": 8.4},
      "data": {"name": "f"},
      "transform": [{"fold": ["total", "mean", "fluc"], "as": ["series", "value"]}],
      "layer": [
        {
          "mark": {"type": "line", "strokeWidth": 3.6},
          "encoding": {
            "x": {"field": "t", "type": "quantitative", "scale": {"domain": [0, 200], "nice": false}, "axis": {"values": [0, 50, 100, 150, 200], "format": "d", "title": "t", "titleY": 56}},
            "y": {"field": "value", "type": "quantitative", "scale": {"domain": [0, 25], "nice": false, "range": [368, 4]}, "axis": {"values": [0, 5, 10, 15, 20, 25], "format": "d", "title": null}},
            "color": {"field": "series", "type": "nominal", "scale": {"domain": ["mean", "fluc", "total"], "range": ["#0072BD", "#D95319", "#EDB120"]}, "legend": null}
          }
        },
        {
          "mark": {"type": "line", "opacity": 0},
          "encoding": {
            "x": {"field": "t", "type": "quantitative", "axis": {"orient": "top", "offset": -4, "values": [0, 50, 100, 150, 200], "labels": false, "title": null}},
            "y": {"field": "value", "type": "quantitative", "axis": {"orient": "right", "values": [0, 5, 10, 15, 20, 25], "labels": false, "title": null}},
            "detail": {"field": "series"}
          }
        }
      ],
      "resolve": {"axis": {"x": "independent", "y": "independent"}}
    }
  ],
  "columns": 3,
  "align": "each",
  "spacing": {"row": 7, "column": 31},
  "resolve": {"scale": {"color": "independent"}, "legend": {"color": "independent"}},
  "config": {
    "view": {"stroke": null},
    "axis": {
      "domain": true, "domainColor": "#8a8a8a", "domainWidth": 1,
      "grid": false, "ticks": true, "tickSize": -5, "tickColor": "#7a7a7a", "tickWidth": 1,
      "labelFont": "Liberation Sans", "labelFontSize": 25, "labelColor": "#262626", "labelFlush": false, "labelOverlap": false, "labelPadding": 11,
      "titleFont": "Liberation Serif", "titleFontStyle": "italic", "titleFontWeight": "normal", "titleColor": "#111111"
    },
    "axisBottom": {"labelPadding": 33, "labelBaseline": "alphabetic", "titleFontSize": 30, "titleBaseline": "alphabetic"},
    "title": {"font": "Liberation Serif", "fontSize": 49, "fontWeight": "normal", "color": "#111111", "frame": "bounds", "anchor": "middle"}
  }
}
